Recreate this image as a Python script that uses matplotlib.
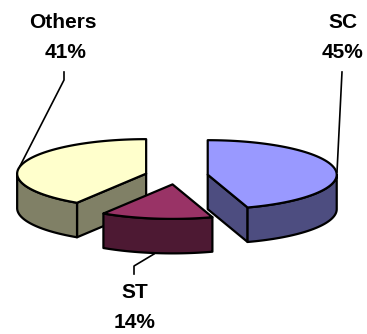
import matplotlib
matplotlib.use('Agg')
import numpy as np
import matplotlib.pyplot as plt
from matplotlib.patches import Polygon

labels = ['SC', 'ST', 'Others']
shares = [45, 14, 41]
top_colors = ['#9999FF', '#993366', '#FFFFCC']
side_colors = ['#4D4D80', '#4D1933', '#808066']

CX, CY = 176.5, 176.0   # pie centre before exploding, pixels
RX, RY = 129.0, 34.5    # tilted ellipse radii
DEPTH = 34.5
EXPLODE = 0.245
LW = 1.6


def ellipse_pts(cx, cy, a0, a1):
    # angles in degrees, clockwise from 12 o'clock
    t = np.radians(np.linspace(a0, a1, 80))
    return cx + RX*np.sin(t), cy - RY*np.cos(t)


def draw_slice(ax, share, a0, color_top, color_side, z):
    a1 = a0 + share*3.6
    mid = np.radians((a0 + a1)/2.)
    cx = CX + EXPLODE*RX*np.sin(mid)
    cy = CY - EXPLODE*RY*np.cos(mid)
    style = dict(edgecolor='black', linewidth=LW, joinstyle='round', zorder=z)

    # cut faces that turn toward the viewer
    for ang in (a0, a1):
        px, py = ellipse_pts(cx, cy, ang, ang)
        px, py = px[0], py[0]
        rad = np.radians(ang)
        faces_front = (ang == a1 and np.sin(rad) > 0) or (ang == a0 and np.sin(rad) < 0)
        if faces_front:
            ax.add_patch(Polygon([(cx, cy), (px, py), (px, py+DEPTH), (cx, cy+DEPTH)],
                                 facecolor=color_side, **style))

    # outer rim, front half of the ellipse only
    lo, hi = max(a0, 90.), min(a1, 270.)
    if lo < hi:
        x, y = ellipse_pts(cx, cy, lo, hi)
        rim = np.column_stack([np.r_[x, x[::-1]], np.r_[y, y[::-1]+DEPTH]])
        ax.add_patch(Polygon(rim, facecolor=color_side, **style))

    # top face
    x, y = ellipse_pts(cx, cy, a0, a1)
    top = np.column_stack([np.r_[cx, x], np.r_[cy, y]])
    ax.add_patch(Polygon(top, facecolor=color_top, **style))


fig = plt.figure(figsize=(3.67, 3.34), dpi=100)
ax = fig.add_axes([0, 0, 1, 1])
ax.set_xlim(0, 367)
ax.set_ylim(334, 0)
ax.axis('off')

# draw Others, then SC, then ST so the front slice overlaps the rest
starts = np.cumsum([0] + shares[:-1])*3.6
for i, z in zip([2, 0, 1], [2, 3, 4]):
    draw_slice(ax, shares[i], starts[i], top_colors[i], side_colors[i], z)

# leader lines
ax.plot([64, 64, 20], [72, 80, 166], color='black', lw=1.2, zorder=1)
ax.plot([342, 337], [72, 172], color='black', lw=1.2, zorder=1)
ax.plot([134, 134, 154], [274, 266, 254], color='black', lw=1.2, zorder=1)

font = dict(family='Liberation Sans', fontweight='bold', fontsize=15,
            ha='center', va='center', color='black')
label_pos = [(343, 22, 52), (135, 293, 323), (63, 22, 52)]
for name, share, (x, y0, y1) in zip(labels, shares, label_pos):
    ax.text(x, y0, name, **font)
    ax.text(x + (3 if name == 'Others' else 0), y1, '%d%%' % share, **font)

fig.savefig('out.png', dpi=100)
